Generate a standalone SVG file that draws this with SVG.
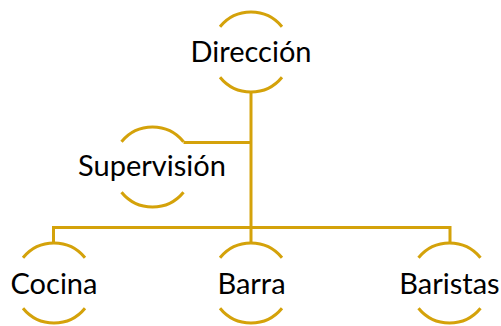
<svg xmlns="http://www.w3.org/2000/svg" width="501" height="326" viewBox="0 0 501 326">
<style>
.arc{fill:none;stroke:#D4A20A;stroke-width:3}
.con{fill:none;stroke:#D4A20A;stroke-width:3}
.lbl{font-family:Lato,"Liberation Sans",sans-serif;font-size:29px;fill:#000;text-anchor:middle}
</style>
<rect width="501" height="326" fill="#fff"/>
<g id="connectors">
<path class="con" d="M251 92 V243"/>
<path class="con" d="M183.5 142.5 H251"/>
<path class="con" d="M53.5 243 V227.5 H450 V243"/>
</g>
<g id="direccion">
<path class="arc" d="M220 26.7 A40 40 0 0 1 282 26.7"/>
<path class="arc" d="M220 77.3 A40 40 0 0 0 282 77.3"/>
<text class="lbl" x="251" y="62">Dirección</text>
</g>
<g id="supervision">
<path class="arc" d="M121.5 141.7 A40 40 0 0 1 183.5 141.7"/>
<path class="arc" d="M121.5 192.3 A40 40 0 0 0 183.5 192.3"/>
<text class="lbl" x="152" y="176">Supervisión</text>
</g>
<g id="cocina">
<path class="arc" d="M23 257.7 A40 40 0 0 1 85 257.7"/>
<path class="arc" d="M23 308.3 A40 40 0 0 0 85 308.3"/>
<text class="lbl" x="54" y="294">Cocina</text>
</g>
<g id="barra">
<path class="arc" d="M220 257.7 A40 40 0 0 1 282 257.7"/>
<path class="arc" d="M220 308.3 A40 40 0 0 0 282 308.3"/>
<text class="lbl" x="251.5" y="294">Barra</text>
</g>
<g id="baristas">
<path class="arc" d="M418.5 257.7 A40 40 0 0 1 480.5 257.7"/>
<path class="arc" d="M418.5 308.3 A40 40 0 0 0 480.5 308.3"/>
<text class="lbl" x="449.5" y="294">Baristas</text>
</g>
</svg>
